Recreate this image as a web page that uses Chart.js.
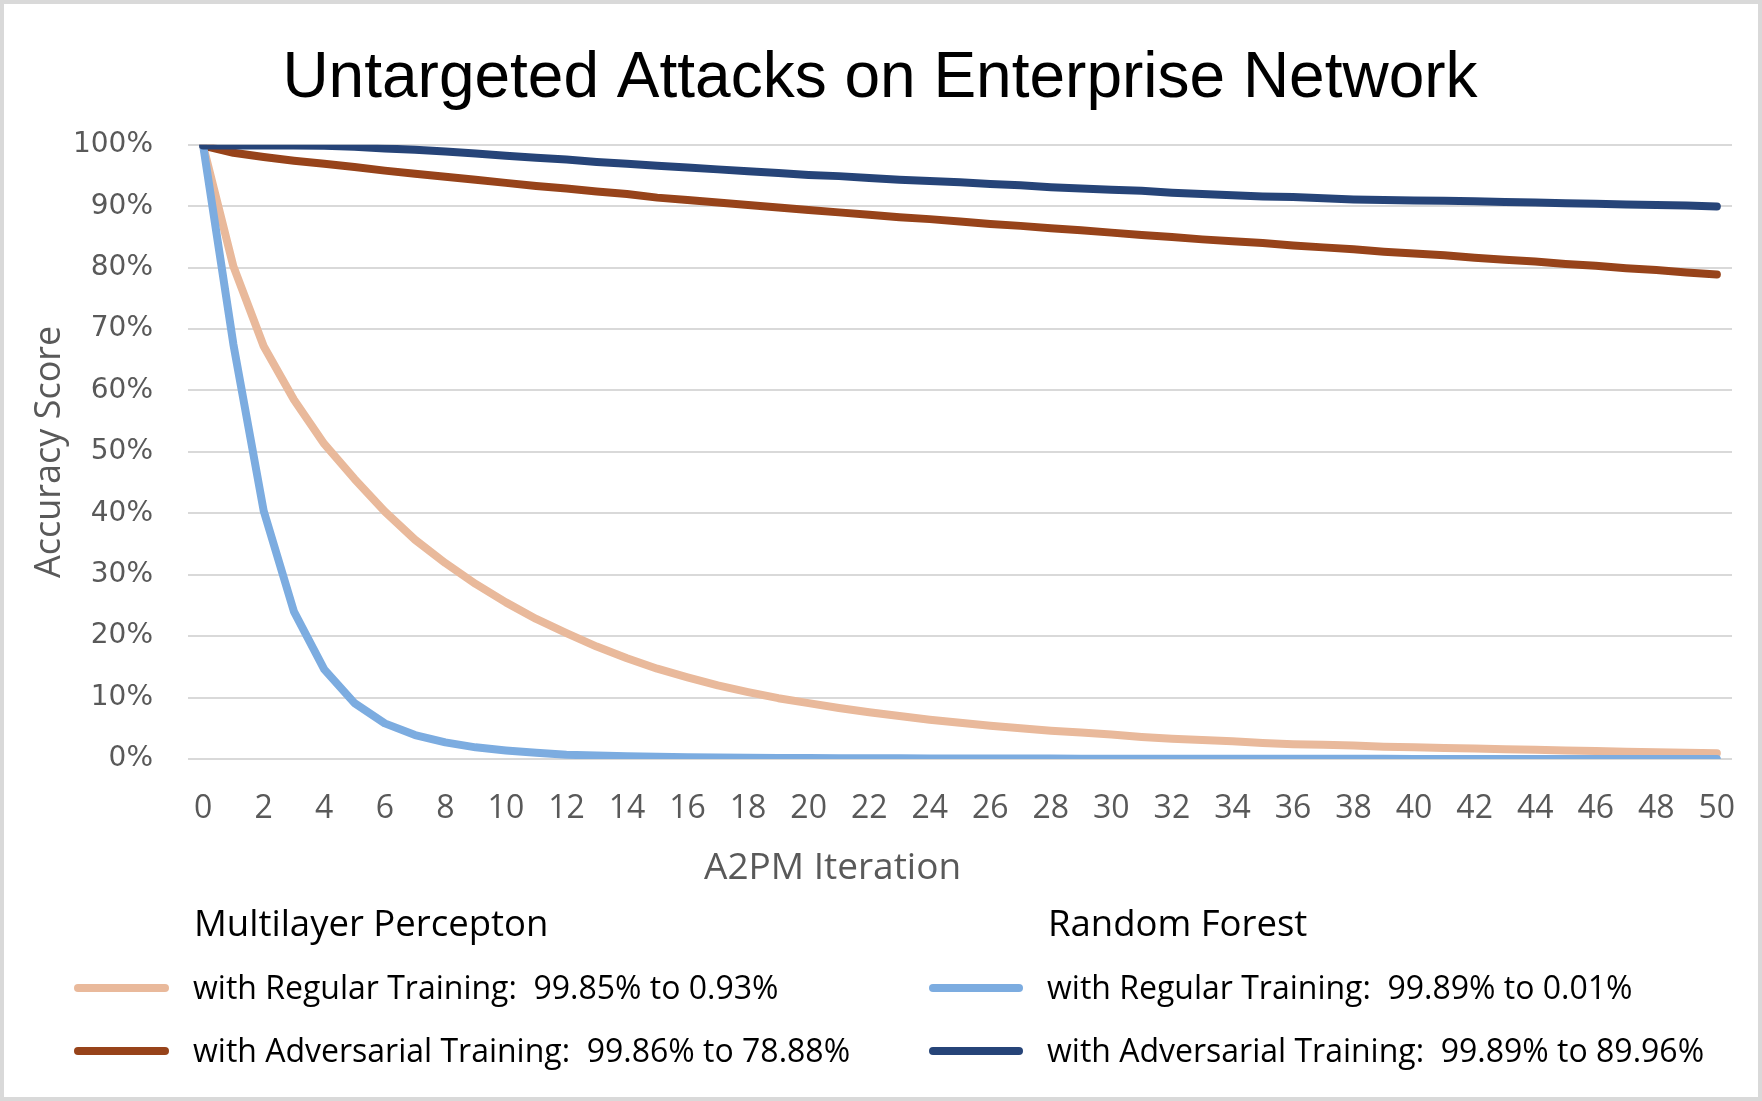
<!DOCTYPE html>
<html>
<head>
<meta charset="utf-8">
<script src="https://cdn.jsdelivr.net/npm/chart.js@4.4.1/dist/chart.umd.min.js"></script>
<style>
  body { margin: 0; background: #ffffff; }
  #wrap { position: relative; width: 1762px; height: 1101px; overflow: hidden; }
  #frame { position: absolute; left: 0; top: 0; width: 1762px; height: 1101px; box-sizing: border-box; border: 4px solid #d9d9d9; pointer-events: none; }
  .lg { position: absolute; font-family: "Open Sans", sans-serif; color: #000000; white-space: pre; line-height: 1; transform: translateY(-50%); }
  .head { font-size: 36.5px; }
  .item { font-size: 32px; }
  .axis-title { font-size: 37px; color: #595959; }
  .swatch { position: absolute; height: 8px; border-radius: 4px; transform: translateY(-50%); }
</style>
</head>
<body>
<div id="wrap">
  <canvas id="accuracyChart" width="1762" height="1101"></canvas>

  <div class="lg axis-title" style="left:704px; top:864px;">A2PM Iteration</div>

  <div class="lg head" style="left:194px; top:922px;">Multilayer Percepton</div>
  <div class="swatch" style="left:74px; width:95px; top:988px; background:#e9b99b;"></div>
  <div class="lg item" style="left:193px; top:987px;">with Regular Training:  99.85% to 0.93%</div>
  <div class="swatch" style="left:74px; width:95px; top:1051px; background:#97431a;"></div>
  <div class="lg item" style="left:193px; top:1050px;">with Adversarial Training:  99.86% to 78.88%</div>

  <div class="lg head" style="left:1048px; top:922px;">Random Forest</div>
  <div class="swatch" style="left:929px; width:94px; top:988px; background:#7cace0;"></div>
  <div class="lg item" style="left:1047px; top:987px;">with Regular Training:  99.89% to 0.01%</div>
  <div class="swatch" style="left:929px; width:94px; top:1051px; background:#264478;"></div>
  <div class="lg item" style="left:1047px; top:1050px;">with Adversarial Training:  99.89% to 89.96%</div>

  <div id="frame"></div>
</div>

<script>
// A2PM iterations (x axis)
const iterations = [0, 1, 2, 3, 4, 5, 6, 7, 8, 9, 10, 11, 12, 13, 14, 15, 16, 17, 18, 19, 20,
    21, 22, 23, 24, 25, 26, 27, 28, 29, 30, 31, 32, 33, 34, 35, 36, 37, 38, 39, 40,
    41, 42, 43, 44, 45, 46, 47, 48, 49, 50];

// accuracy in %
const mlpRegular = [99.85, 80.2, 67.2, 58.5, 51.3, 45.6, 40.3, 35.7, 31.9, 28.5, 25.5,
    22.8, 20.5, 18.3, 16.4, 14.7, 13.3, 12.0, 10.9, 9.9, 9.1,
    8.3, 7.6, 7.0, 6.4, 5.9, 5.4, 5.0, 4.6, 4.3, 4.0,
    3.6, 3.3, 3.1, 2.9, 2.6, 2.4, 2.3, 2.2, 2.0, 1.9,
    1.8, 1.7, 1.6, 1.5, 1.4, 1.3, 1.2, 1.1, 1.0, 0.93];

const mlpAdversarial = [99.86, 98.7, 98.0, 97.4, 96.9, 96.4, 95.8, 95.3, 94.8, 94.3, 93.8,
    93.3, 92.9, 92.4, 92.0, 91.4, 91.0, 90.6, 90.2, 89.8, 89.4,
    89.0, 88.6, 88.2, 87.9, 87.5, 87.1, 86.8, 86.4, 86.1, 85.7,
    85.3, 85.0, 84.6, 84.3, 84.0, 83.6, 83.3, 83.0, 82.6, 82.3,
    82.0, 81.6, 81.3, 81.0, 80.6, 80.3, 79.9, 79.6, 79.2, 78.88];

const rfRegular = [99.89, 67.5, 40.4, 24.0, 14.6, 9.1, 5.8, 3.9, 2.7, 1.9, 1.4,
    1.0, 0.7, 0.55, 0.45, 0.35, 0.3, 0.25, 0.2, 0.18, 0.15,
    0.13, 0.12, 0.11, 0.1, 0.09, 0.08, 0.07, 0.07, 0.06, 0.06,
    0.05, 0.05, 0.04, 0.04, 0.04, 0.03, 0.03, 0.03, 0.03, 0.02,
    0.02, 0.02, 0.02, 0.02, 0.02, 0.02, 0.01, 0.01, 0.01, 0.01];

const rfAdversarial = [99.89, 99.9, 99.9, 99.9, 99.85, 99.7, 99.4, 99.2, 98.9, 98.6, 98.2,
    97.9, 97.6, 97.2, 96.9, 96.6, 96.3, 96.0, 95.7, 95.4, 95.1,
    94.9, 94.6, 94.3, 94.1, 93.9, 93.6, 93.4, 93.1, 92.9, 92.7,
    92.5, 92.2, 92.0, 91.8, 91.6, 91.5, 91.3, 91.1, 91.0, 90.95,
    90.9, 90.8, 90.7, 90.6, 90.5, 90.4, 90.3, 90.2, 90.1, 89.96];

const yTicks = [0, 10, 20, 30, 40, 50, 60, 70, 80, 90, 100];

const makeLine = (label, data, color, order) => ({
    label: label,
    data: data,
    borderColor: color,
    backgroundColor: color,
    borderWidth: 8,
    pointRadius: 0,
    tension: 0,
    fill: false,
    borderCapStyle: 'round',
    borderJoinStyle: 'round',
    order: order
});

const ctx = document.getElementById('accuracyChart').getContext('2d');

new Chart(ctx, {
    type: 'line',
    data: {
        labels: iterations,
        datasets: [
            makeLine('MLP with Regular Training', mlpRegular, '#e9b99b', 4),
            makeLine('MLP with Adversarial Training', mlpAdversarial, '#97431a', 3),
            makeLine('RF with Regular Training', rfRegular, '#7cace0', 2),
            makeLine('RF with Adversarial Training', rfAdversarial, '#264478', 1)
        ]
    },
    options: {
        responsive: false,
        animation: false,
        devicePixelRatio: 1,
        layout: {
            // left padding keeps the title centred on the page
            padding: { top: 10, right: 30, bottom: 215, left: 28 }
        },
        plugins: {
            legend: { display: false },
            tooltip: { enabled: false },
            title: {
                display: true,
                text: 'Untargeted Attacks on Enterprise Network',
                color: '#000000',
                font: { family: '"Liberation Sans", Arial, sans-serif', size: 64, weight: 'normal' },
                padding: { top: 31, bottom: 27 }
            }
        },
        scales: {
            x: {
                offset: true,
                grid: { display: false },
                border: { display: false },
                ticks: {
                    autoSkip: false,
                    maxRotation: 0,
                    minRotation: 0,
                    padding: 23,
                    color: '#595959',
                    font: { family: '"Open Sans", sans-serif', size: 32 },
                    callback: (value, index) => (index % 2 === 0 ? String(iterations[index]) : '')
                },
                title: { display: false },
                afterFit: (scale) => { scale.height = 127; }
            },
            y: {
                min: 0,
                max: 100,
                afterBuildTicks: (scale) => { scale.ticks = yTicks.map(v => ({ value: v })); },
                grid: { color: '#d9d9d9', lineWidth: 2, drawTicks: false },
                border: { display: false },
                ticks: {
                    padding: 35,
                    color: '#595959',
                    font: { family: '"DejaVu Sans", sans-serif', size: 28 },
                    callback: (value) => value + '%'
                },
                title: {
                    display: true,
                    text: 'Accuracy Score',
                    color: '#595959',
                    font: { family: '"Open Sans", sans-serif', size: 36 },
                    padding: { top: 0, bottom: 0 }
                },
                afterFit: (scale) => { scale.width = 160; }
            }
        }
    }
});
</script>
</body>
</html>
